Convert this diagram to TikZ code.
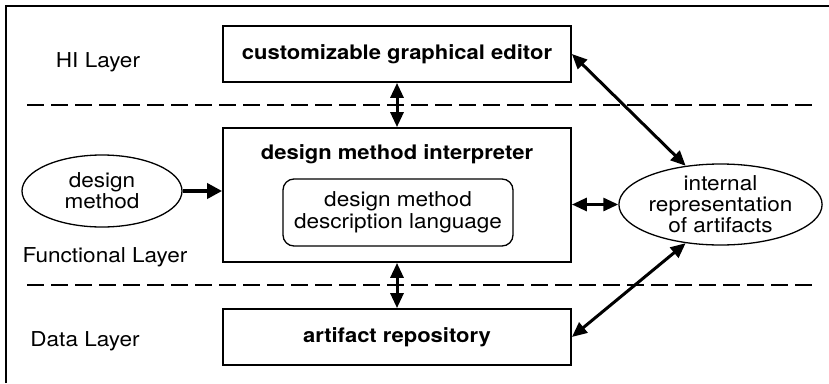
\documentclass[tikz,border=0pt]{standalone}
\usepackage{fontspec}
\setmainfont[FakeStretch=1.1]{TeX Gyre Heros}
\usetikzlibrary{arrows.meta,shapes.geometric}

\begin{document}
\begin{tikzpicture}[x=1pt,y=-1pt,
  txt/.style={font=\fontsize{20.5}{21}\selectfont, align=center, inner sep=0pt},
  boldtxt/.style={font=\bfseries\fontsize{20}{21}\selectfont, inner sep=0pt},
  box/.style={draw, line width=1.8pt, inner sep=0pt},
  inbox/.style={draw, line width=1.3pt, rounded corners=11pt, inner sep=0pt,
    align=center, font=\fontsize{20.5}{22}\selectfont},
  oval/.style={draw, ellipse, line width=1.3pt, inner sep=0pt, align=center,
    font=\fontsize{20.5}{21}\selectfont},
  layerline/.style={line width=2.6pt, dash pattern=on 17pt off 7pt},
  tip/.tip={Triangle[length=15pt,width=13pt]},
  bigtip/.tip={Triangle[length=15pt,width=15pt]},
  both/.style={line width=3pt, tip-tip},
  one/.style={line width=4.5pt, -bigtip}
]
\useasboundingbox (0,0) rectangle (829,383);

% outer frame (top and left edges)
\draw[line width=1.4pt] (6,383) -- (6,6) -- (829,6);

% layer separators
\draw[layerline] (27,105) -- (812,105);
\draw[layerline] (27,285) -- (812,285);

% layer names
\node[txt] (hi)   at (98,62)  {HI Layer};
\node[txt] (func) at (105,257) {Functional Layer};
\node[txt] (data) at (85,341) {Data Layer};

% components
\node[box, minimum width=348pt, minimum height=56pt] (editor) at (397,54) {};
\node[boldtxt] (editorlbl) at (editor) {customizable graphical editor};

\node[box, minimum width=348pt, minimum height=134pt] (interp) at (397,195) {};
\node[boldtxt] (interplbl) at (397,154) {design method interpreter};
\node[inbox, minimum width=230pt, minimum height=67pt] (dmdl) at (398,212.5)
  {design method\\description language};

\node[box, minimum width=348pt, minimum height=56pt] (repo) at (397,337) {};
\node[boldtxt] (repolbl) at (repo) {artifact repository};

\node[oval, minimum width=160pt, minimum height=72pt] (dm) at (102,191)
  {design\\method};
\node[oval, minimum width=187pt, minimum height=81pt] (irep) at (720.5,204.5)
  {internal\\representation\\of artifacts};

% connectors
\draw[both] (editor.south) -- (interp.north);
\draw[both] (interp.south) -- (repo.north);
\draw[one] (dm.east) -- (dm.east -| interp.west);
\draw[both] (interp.east |- irep.west) -- (irep.west);
\draw[both] (editor.east) -- (irep.132);
\draw[both] (irep.228) -- (repo.east);
\end{tikzpicture}
\end{document}
